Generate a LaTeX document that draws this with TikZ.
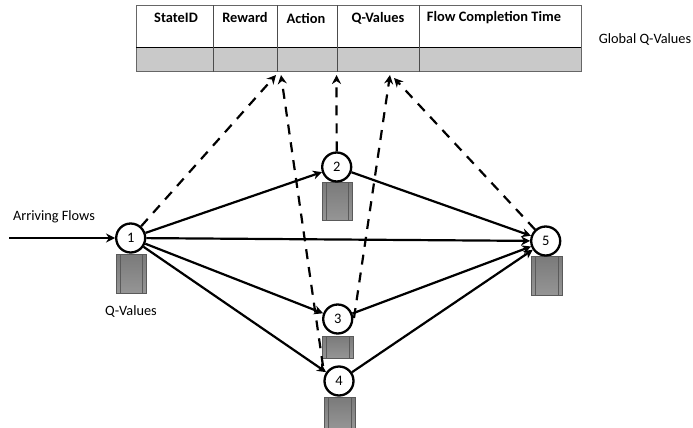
\documentclass[tikz,border=0pt]{standalone}
\usepackage{fontspec}
\setmainfont{Carlito}
\usetikzlibrary{arrows.meta}
\definecolor{cellgray}{HTML}{C9C9C9}
\definecolor{rackedge}{HTML}{5A5A5A}
\definecolor{racktop}{HTML}{7A7A7A}
\definecolor{rackbot}{HTML}{959595}
\tikzset{
  x=1pt,y=-1pt,
  cellhead/.style={font=\bfseries\fontsize{14.4}{16}\selectfont,anchor=center,inner sep=0pt},
  plain/.style={font=\fontsize{14.3}{16}\selectfont,anchor=center,inner sep=0pt},
  state/.style={circle,draw=black,line width=2.3pt,fill=white,minimum size=29pt,inner sep=0pt,font=\fontsize{14.5}{16}\selectfont},
  link/.style={line width=2.2pt,-{Stealth[length=9pt,width=9pt]}},
  report/.style={line width=2.2pt,dash pattern=on 10pt off 8pt,-{Stealth[length=9pt,width=9pt]}},
}
\newcommand{\rack}[4]{% x1,y1,x2,y2
  \fill[top color=racktop,bottom color=rackbot] (#1,#2) rectangle (#3,#4);
  \draw[rackedge,line width=0.7pt] (#1,#2) rectangle (#3,#4);
  \draw[rackedge,line width=0.9pt] (#1+4,#2) -- (#1+4,#4) (#3-4,#2) -- (#3-4,#4);
}
\begin{document}
\begin{tikzpicture}
\useasboundingbox (0,0) rectangle (693,428);
% table
\fill[cellgray] (136,48) rectangle (581,71.5);
\draw[black!60,line width=1pt] (136,5.5) rectangle (581,71.5);
\draw[black,line width=1pt] (136,48) -- (581,48);
\foreach \cx in {213,277,337.5,419} \draw[black!70,line width=0.9pt] (\cx,5.5) -- (\cx,71.5);
\node[cellhead] (h1) at (176,18) {StateID};
\node[cellhead] (h2) at (245,18) {Reward};
\node[cellhead] (h3) at (306,18) {Action};
\node[cellhead] (h4) at (378,18) {Q-Values};
\node[cellhead] (h5) at (494,18) {Flow Completion Time};
\node[plain] (gq) at (645,39) {Global Q-Values};
\coordinate (t1) at (276,75);
\coordinate (t3) at (281,75);
\coordinate (t2) at (336.5,75);
\coordinate (t4) at (390,75);
\coordinate (t5) at (394,78);
\coordinate (d3) at (354,318);
\coordinate (d4) at (323,366);
% racks
\rack{116}{254}{146}{293}
\rack{322}{182}{352}{220}
\rack{322}{336}{353}{358}
\rack{324}{397}{355}{428}
\rack{531}{256}{562}{295}
% nodes
\node[state] (n1) at (130.7,238) {1};
\node[state] (n2) at (336.7,167) {2};
\node[state] (n3) at (337.7,319) {3};
\node[state] (n4) at (339,381) {4};
\node[state] (n5) at (545.7,241) {5};
\node[plain] (af) at (54,217) {Arriving Flows};
\node[plain] (qv) at (131,311) {Q-Values};
\coordinate (in) at (9,238);
% dashed
\draw[report] (n1) -- (t1);
\draw[report] (n2) -- (t2);
\draw[report] (n5) -- (t5);
\draw[report] (d3) -- (t4);
\draw[report] (d4) -- (t3);
% solid
\draw[link] (in) -- (n1);
\draw[link] (n1) -- (n2);
\draw[link] (n1) -- (n3);
\draw[link] (n1) -- (n4);
\draw[link] (n1) -- (n5);
\draw[link] (n2) -- (n5);
\draw[link] (n3) -- (n5);
\draw[link] (n4) -- (n5);
\end{tikzpicture}
\end{document}
